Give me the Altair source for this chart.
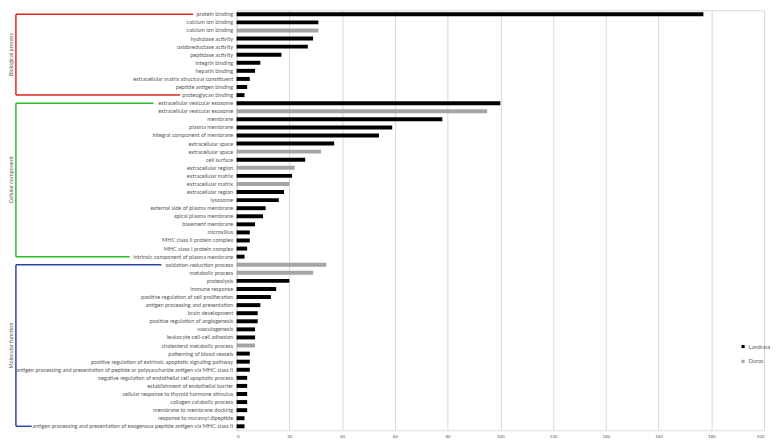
import json
import altair as alt
import pandas as pd

# ---- data ----
terms = [
    "protein binding", "calcium ion binding", "calcium ion binding", "hydrolase activity",
    "oxidoreductase activity", "peptidase activity", "integrin binding", "heparin binding",
    "extracellular matrix structural constituent", "peptide antigen binding", "proteoglycan binding",
    "extracellular vesicular exosome", "extracellular vesicular exosome", "membrane", "plasma membrane",
    "integral component of membrane", "extracellular space", "extracellular space", "cell surface",
    "extracellular region", "extracellular matrix", "extracellular matrix", "extracellular region",
    "lysosome", "external side of plasma membrane", "apical plasma membrane", "basement membrane",
    "microvillus", "MHC class II protein complex", "MHC class I protein complex",
    "intrinsic component of plasma membrane",
    "oxidation-reduction process", "metabolic process", "proteolysis", "immune response",
    "positive regulation of cell proliferation", "antigen processing and presentation",
    "brain development", "positive regulation of angiogenesis", "vasculogenesis",
    "leukocyte cell-cell adhesion", "cholesterol metabolic process", "patterning of blood vessels",
    "positive regulation of extrinsic apoptotic signaling pathway",
    "antigen processing and presentation of peptide or polysaccharide antigen via MHC class II",
    "negative regulation of endothelial cell apoptotic process", "establishment of endothelial barrier",
    "cellular response to thyroid hormone stimulus", "collagen catabolic process",
    "membrane to membrane docking", "response to muramyl dipeptide",
    "antigen processing and presentation of exogenous peptide antigen via MHC class II",
]
breeds = [
    "Landrace", "Landrace", "Duroc", "Landrace", "Landrace", "Landrace", "Landrace", "Landrace",
    "Landrace", "Landrace", "Landrace",
    "Landrace", "Duroc", "Landrace", "Landrace", "Landrace", "Landrace", "Duroc", "Landrace",
    "Duroc", "Landrace", "Duroc", "Landrace", "Landrace", "Landrace", "Landrace", "Landrace",
    "Landrace", "Landrace", "Landrace", "Landrace",
    "Duroc", "Duroc", "Landrace", "Landrace", "Landrace", "Landrace", "Landrace", "Landrace",
    "Landrace", "Landrace", "Duroc", "Landrace", "Landrace", "Landrace", "Landrace", "Landrace",
    "Landrace", "Landrace", "Landrace", "Landrace", "Landrace",
]
counts = [
    177, 31, 31, 29, 27, 17, 9, 7, 5, 4, 3,
    100, 95, 78, 59, 54, 37, 32, 26, 22, 21, 20, 18, 16, 11, 10, 7, 5, 5, 4, 3,
    34, 29, 20, 15, 13, 9, 8, 8, 7, 7, 7, 5, 5, 5, 4, 4, 4, 4, 4, 3, 3,
]
group_names = ["Biological process", "Cellular component", "Molecular function"]
group_first = [0, 11, 31]
group_last = [10, 30, 51]
group_mid = [5, 20, 41]
group_colors = ["#E02424", "#2DB82D", "#2844A4"]
x_ticks = [0, 20, 40, 60, 80, 100, 120, 140, 160, 180, 200]

keys = [f"{i:02d}" for i in range(len(terms))]
df = pd.DataFrame({"key": keys, "term": terms, "breed": breeds, "count": counts})

label_expr = json.dumps(terms) + "[toNumber(datum.value)]"

FONT = "Lato"
TXT = "#595959"
FS = 5.6

y_enc = alt.Y("key:O", sort="ascending", title=None,
              axis=alt.Axis(labelExpr=label_expr, labelFontSize=FS, labelFont=FONT,
                            labelColor=TXT, labelLimit=400, ticks=False, domain=False,
                            labelPadding=4))

bars = alt.Chart(df).mark_bar(size=4).encode(
    x=alt.X("count:Q", scale=alt.Scale(domain=[0, 200], nice=False), title=None,
            axis=alt.Axis(values=x_ticks, labelFontSize=4.5, labelFont=FONT, labelColor=TXT,
                          ticks=False, domain=False, grid=True, gridColor="#D9D9D9",
                          labelPadding=3)),
    y=y_enc,
    color=alt.Color("breed:N", scale=alt.Scale(domain=["Landrace", "Duroc"],
                                                range=["#000000", "#A5A5A5"]),
                    legend=alt.Legend(title=None, orient="none", legendX=509, legendY=337,
                                      symbolType="square", symbolSize=10, labelFontSize=FS,
                                      labelFont=FONT, labelColor=TXT, rowPadding=8,
                                      symbolStrokeWidth=0, labelOffset=3)),
)

# bracket annotations
bx = -223
ends_first = [-44, -84, -76]
ends_last = [-57, -108, -207]
gdf = pd.DataFrame({
    "group": group_names,
    "first": [keys[i] for i in group_first],
    "last": [keys[i] for i in group_last],
    "mid": [keys[i] for i in group_mid],
})
layers = [bars]
for gi in range(3):
    sub = gdf.iloc[[gi]]
    col = group_colors[gi]
    vert = alt.Chart(sub).mark_rule(color=col, strokeWidth=1.5).encode(
        x=alt.value(bx), y=alt.Y("first:O", sort="ascending"), y2="last:O")
    hf = alt.Chart(sub).mark_rule(color=col, strokeWidth=1.5).encode(
        x=alt.value(bx), x2=alt.value(ends_first[gi]), y=alt.Y("first:O", sort="ascending"))
    hl = alt.Chart(sub).mark_rule(color=col, strokeWidth=1.5).encode(
        x=alt.value(bx), x2=alt.value(ends_last[gi]), y=alt.Y("last:O", sort="ascending"))
    dy = 4 if gi == 1 else 0
    title = alt.Chart(sub).mark_text(angle=270, fontSize=FS, font=FONT, color=TXT,
                                     align="center", baseline="middle", dx=-dy).encode(
        x=alt.value(-227.5), y=alt.Y("mid:O", sort="ascending"), text="group:N")
    layers += [vert, hf, hl, title]

chart = alt.layer(*layers).resolve_scale(y="shared").properties(
    width=533, height=424.5,
    autosize=alt.AutoSizeParams(type="none"),
    padding={"left": 231, "top": 0, "right": 6, "bottom": 10},
).configure_view(stroke=None).configure(background="white")

chart.save("out.html", embed_options={"renderer": "svg", "actions": False})
